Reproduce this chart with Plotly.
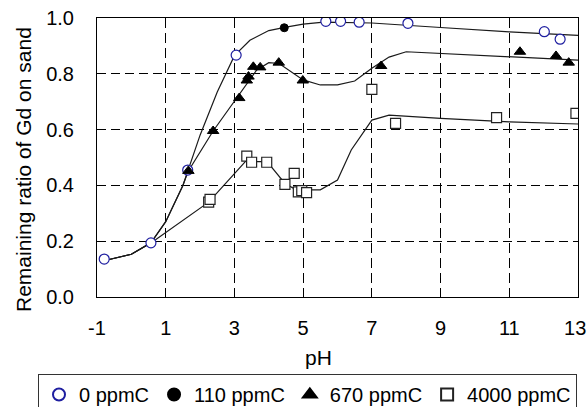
import plotly.graph_objects as go

# ---- measured data (markers) ----
ph_0 = [-0.79, 0.57, 1.64, 3.05, 5.66, 6.09, 6.63, 8.05, 12.02, 12.48]
r_0 = [0.136, 0.194, 0.455, 0.867, 0.988, 0.988, 0.985, 0.981, 0.951, 0.924]

ph_110 = [4.45]
r_110 = [0.965]

ph_670 = [1.66, 2.38, 3.14, 3.36, 3.41, 3.55, 3.75, 4.29, 4.99, 7.27, 11.31, 12.36, 12.73]
r_670 = [0.452, 0.595, 0.713, 0.776, 0.790, 0.825, 0.823, 0.840, 0.776, 0.828, 0.879, 0.864, 0.840]

ph_4000 = [2.25, 2.29, 3.36, 3.50, 3.94, 4.47, 4.74, 4.86, 4.96, 5.10, 7.00, 7.69, 10.63, 12.94]
r_4000 = [0.340, 0.350, 0.505, 0.483, 0.483, 0.404, 0.443, 0.377, 0.381, 0.374, 0.744, 0.622, 0.643, 0.658]

# ---- model curves ----
curve_low_ph = [-0.8, 0.0, 0.57, 1.0, 1.5, 1.65, 2.0, 2.5, 3.0, 3.45, 4.0, 4.5, 5.0, 5.6, 7.0, 9.0, 11.0, 13.0]
curve_low_r = [0.13, 0.153, 0.194, 0.27, 0.40, 0.455, 0.58, 0.735, 0.865, 0.92, 0.955, 0.967, 0.978, 0.985, 0.982, 0.966, 0.95, 0.938]

curve_mid_ph = [-0.8, 0.0, 0.57, 1.0, 1.5, 1.65, 2.38, 3.0, 3.4, 3.65, 4.0, 4.3, 5.0, 5.5, 6.0, 6.5, 7.0, 7.5, 8.0, 9.0, 11.0, 13.0]
curve_mid_r = [0.13, 0.153, 0.194, 0.27, 0.40, 0.45, 0.595, 0.70, 0.77, 0.814, 0.84, 0.837, 0.778, 0.76, 0.76, 0.774, 0.82, 0.86, 0.879, 0.873, 0.861, 0.849]

curve_high_ph = [-0.8, 0.0, 0.57, 2.25, 3.35, 3.6, 3.95, 4.47, 4.8, 5.5, 6.0, 6.4, 7.0, 7.5, 9.0, 11.0, 13.0]
curve_high_r = [0.13, 0.153, 0.194, 0.34, 0.49, 0.485, 0.485, 0.407, 0.384, 0.384, 0.419, 0.527, 0.634, 0.652, 0.64, 0.628, 0.62]

x_ticks = [-1, 1, 3, 5, 7, 9, 11, 13]
x_tick_text = ["-1", "1", "3", "5", "7", "9", "11", "13\u00a0"]
y_ticks = [0.0, 0.2, 0.4, 0.6, 0.8, 1.0]
y_tick_text = ["0.0", "0.2", "0.4", "0.6", "0.8", "1.0"]

FONT = "Liberation Sans, Arial, sans-serif"
LINE = dict(color="#1a1a1a", width=1.2)

fig = go.Figure()
for cx, cy in [(curve_low_ph, curve_low_r), (curve_mid_ph, curve_mid_r), (curve_high_ph, curve_high_r)]:
    fig.add_trace(go.Scatter(x=cx, y=cy, mode="lines", line=LINE, showlegend=False, hoverinfo="skip"))

fig.add_trace(go.Scatter(x=ph_0, y=r_0, mode="markers", name="0 ppmC",
                         marker=dict(symbol="circle", size=10, color="white",
                                     line=dict(color="rgb(30,30,160)", width=1.2))))
fig.add_trace(go.Scatter(x=ph_110, y=r_110, mode="markers", name="110 ppmC",
                         marker=dict(symbol="circle", size=8, color="black",
                                     line=dict(color="black", width=1))))
fig.add_trace(go.Scatter(x=ph_670, y=r_670, mode="markers", name="670 ppmC",
                         marker=dict(symbol="triangle-up", size=10, color="black",
                                     line=dict(color="black", width=1))))
fig.add_trace(go.Scatter(x=ph_4000, y=r_4000, mode="markers", name="4000 ppmC",
                         marker=dict(symbol="square", size=10, color="white",
                                     line=dict(color="#222222", width=1.2))))

L, R, T, B = 97, 9, 18, 110
W, H = 587, 407
pw, ph = W - L - R, H - T - B

def px_x(p):
    return (p - L) / pw

def px_y(p):
    return (H - B - p) / ph

fig.update_layout(
    width=W, height=H,
    margin=dict(l=L, r=R, t=T, b=B, autoexpand=False),
    paper_bgcolor="white", plot_bgcolor="white",
    font=dict(family=FONT, size=20, color="black"),
    showlegend=True,
    legend=dict(orientation="h", x=px_x(38), xanchor="left", y=px_y(374), yanchor="top",
                bordercolor="#333333", borderwidth=1, font=dict(size=20, family=FONT),
                itemsizing="constant", tracegroupgap=0),
    annotations=[
        dict(text="Remaining ratio of Gd on sand", xref="paper", yref="paper",
             x=px_x(23), y=px_y(170), textangle=-90, showarrow=False,
             xanchor="center", yanchor="middle", font=dict(size=21, family=FONT)),
        dict(text="pH", xref="paper", yref="paper", x=px_x(318), y=px_y(357),
             showarrow=False, xanchor="center", yanchor="middle", font=dict(size=21, family=FONT)),
    ],
)

fig.update_xaxes(range=[-1, 13], tickmode="array", tickvals=x_ticks,
                 ticktext=x_tick_text, showgrid=True, gridcolor="black",
                 gridwidth=1, griddash="10px,5px", showline=True, linecolor="black",
                 linewidth=1, mirror=True, zeroline=False, ticks="",
                 ticklabelstandoff=13, ticklabeloverflow="allow",
                 tickfont=dict(size=20, family=FONT))
fig.update_yaxes(range=[0, 1.0], tickmode="array", tickvals=y_ticks, ticktext=y_tick_text,
                 showgrid=True, gridcolor="black", gridwidth=1, griddash="9px,5px",
                 showline=True, linecolor="black", linewidth=1, mirror=True,
                 zeroline=False, ticks="", ticklabelstandoff=18,
                 tickfont=dict(size=20, family=FONT))

fig.write_html("out.html")
